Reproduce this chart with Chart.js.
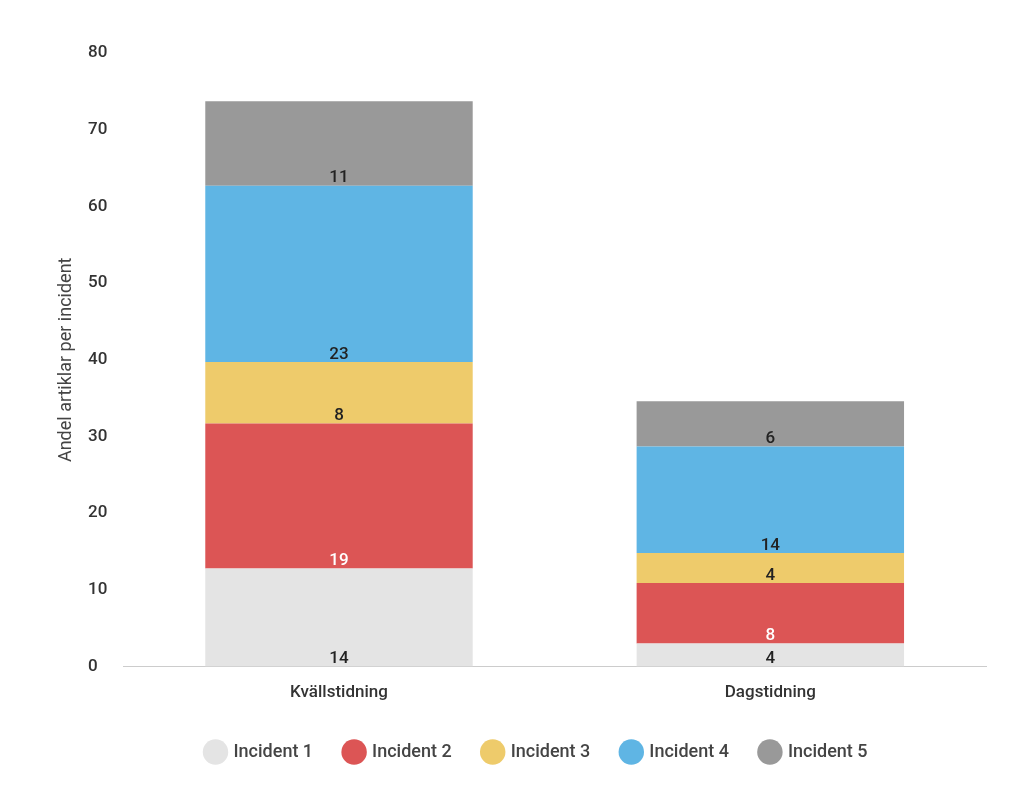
<!DOCTYPE html>
<html>
<head>
<meta charset="utf-8">
<script src="https://cdn.jsdelivr.net/npm/chart.js@4"></script>
<style>
  body { margin: 0; background: #fff; }
  #wrap { width: 1024px; height: 785px; }
</style>
</head>
<body>
<div id="wrap"><canvas id="chart"></canvas></div>
<script>
const categories = ['Kvällstidning', 'Dagstidning'];
const seriesNames = ['Incident 1', 'Incident 2', 'Incident 3', 'Incident 4', 'Incident 5'];
const seriesColors = ['#e4e4e4', '#dc5555', '#eecb6b', '#5fb5e4', '#999999'];
const labelColors = ['#222', '#fff', '#222', '#222', '#222'];
// segment heights as drawn
const incident1 = [12.8, 3.0];
const incident2 = [18.9, 7.9];
const incident3 = [8.0, 3.9];
const incident4 = [23.0, 13.9];
const incident5 = [11.0, 5.9];
// labels as printed
const label1 = [14, 4];
const label2 = [19, 8];
const label3 = [8, 4];
const label4 = [23, 14];
const label5 = [11, 6];
const yTicks = [0, 10, 20, 30, 40, 50, 60, 70, 80];
const yTitle = 'Andel artiklar per incident';

const values = [incident1, incident2, incident3, incident4, incident5];
const labels = [label1, label2, label3, label4, label5];

const segmentLabels = {
    id: 'segmentLabels',
    afterDatasetsDraw(chart) {
        const ctx = chart.ctx;
        ctx.save();
        ctx.font = '500 17px Roboto';
        ctx.textAlign = 'center';
        ctx.textBaseline = 'bottom';
        chart.data.datasets.forEach((ds, i) => {
            chart.getDatasetMeta(i).data.forEach((bar, j) => {
                ctx.fillStyle = labelColors[i];
                ctx.fillText(String(labels[i][j]), bar.x, bar.base + 1);
            });
        });
        // y axis title
        const area = chart.chartArea;
        ctx.translate(66, (area.top + area.bottom) / 2);
        ctx.rotate(-Math.PI / 2);
        ctx.textBaseline = 'middle';
        ctx.fillStyle = '#444';
        ctx.font = '18px Roboto';
        ctx.fillText(yTitle, 0, 0);
        ctx.restore();
    },
};

new Chart(document.getElementById('chart'), {
    type: 'bar',
    data: {
        labels: categories,
        datasets: seriesNames.map((name, i) => ({
            label: name,
            data: values[i],
            backgroundColor: seriesColors[i],
            barPercentage: 0.62,
            categoryPercentage: 1,
        })),
    },
    options: {
        responsive: true,
        maintainAspectRatio: false,
        animation: false,
        layout: { padding: { left: 88, right: 38, top: 53, bottom: 14 } },
        plugins: {
            tooltip: { enabled: false },
            legend: {
                position: 'bottom',
                labels: {
                    usePointStyle: true,
                    pointStyle: 'circle',
                    boxWidth: 24,
                    boxHeight: 24,
                    padding: 32,
                    color: '#444',
                    font: { family: 'Roboto', size: 18, weight: '500' },
                },
            },
        },
        scales: {
            x: {
                stacked: true,
                grid: { display: false },
                border: { color: '#cccccc' },
                ticks: { color: '#333', font: { family: 'Roboto', size: 17, weight: '500' }, padding: 8 },
            },
            y: {
                stacked: true,
                min: 0,
                max: 80,
                afterBuildTicks(axis) { axis.ticks = yTicks.map((v) => ({ value: v })); },
                grid: { display: false },
                border: { display: false },
                ticks: {
                    crossAlign: 'far',
                    padding: 4,
                    color: '#333',
                    font: { family: 'Roboto', size: 17, weight: '500' },
                },
            },
        },
    },
    plugins: [segmentLabels],
});
</script>
</body>
</html>
